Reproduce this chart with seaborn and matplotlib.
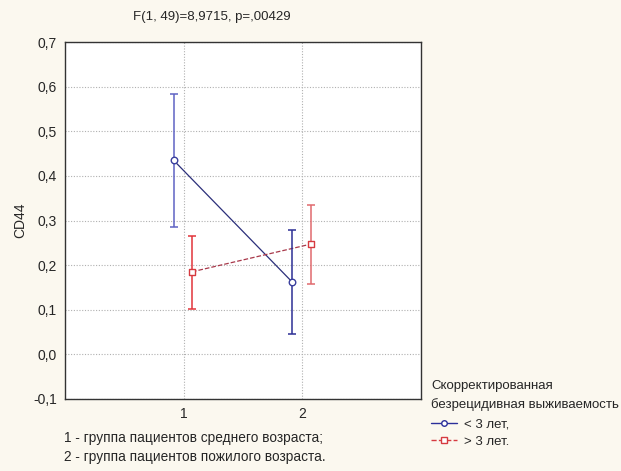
import numpy as np
import pandas as pd
import matplotlib
matplotlib.use("Agg")
import matplotlib.pyplot as plt
import seaborn as sns
from matplotlib.lines import Line2D
from matplotlib.ticker import FuncFormatter

groups = [1, 2]
series = ["< 3 лет,", "> 3 лет."]
mean_short = [0.435, 0.162]
low_short = [0.285, 0.045]
high_short = [0.583, 0.278]
mean_long = [0.185, 0.247]
low_long = [0.102, 0.157]
high_long = [0.265, 0.335]
title_text = "F(1, 49)=8,9715, p=,00429"
ylabel_text = "CD44"
note_lines = ["1 - группа пациентов среднего возраста;", "2 - группа пациентов пожилого возраста."]
legend_title = "Скорректированная\nбезрецидивная выживаемость"

sns.set_style("white")
plt.rcParams['font.family'] = ['Liberation Sans', 'DejaVu Sans']

bg = "#fbf8ef"
fig = plt.figure(figsize=(6.21, 4.71), dpi=100, facecolor=bg)
ax = fig.add_axes([65/621, 1-399/471, (421-65)/621, (399-42)/471])
ax.set_facecolor("white")

offsets = [-0.085, 0.07]
df = pd.DataFrame({
    "x": [g + offsets[0] for g in groups] + [g + offsets[1] for g in groups],
    "mean": mean_short + mean_long,
    "low": low_short + low_long,
    "high": high_short + high_long,
    "series": [series[0]] * 2 + [series[1]] * 2,
})

line_cols = {series[0]: "#2b2f7a", series[1]: "#a8384a"}
err_cols = {series[0]: ["#5f63c4", "#2c2f95"], series[1]: ["#e2343a", "#e06a6e"]}
mk_cols = {series[0]: "#3a3f9e", series[1]: "#d63a40"}
markers = {series[0]: "o", series[1]: "s"}
styles = {series[0]: "-", series[1]: "--"}

for s in series:
    d = df[df["series"] == s]
    sns.lineplot(data=d, x="x", y="mean", ax=ax, color=line_cols[s], linewidth=0.9,
                 linestyle=styles[s], legend=False, zorder=2)
    for i, (_, r) in enumerate(d.iterrows()):
        ax.errorbar(r["x"], r["mean"], yerr=[[r["mean"] - r["low"]], [r["high"] - r["mean"]]],
                    fmt="none", ecolor=err_cols[s][i], elinewidth=1.1, capsize=3.2, capthick=1.1, zorder=3)
    ax.scatter(d["x"], d["mean"], marker=markers[s], s=22, facecolor="white",
               edgecolor=mk_cols[s], linewidth=1.0, zorder=4)

ax.set_xlim(0, 3)
ax.set_ylim(-0.1, 0.7)
ax.set_xticks(groups)
ax.set_xticklabels([str(g) for g in groups])
ax.set_yticks(np.round(np.arange(-0.1, 0.71, 0.1), 1))
ax.yaxis.set_major_formatter(FuncFormatter(lambda v, p: f"{v:.1f}".replace(".", ",").replace("-0,0", "0,0")))
ax.grid(True, color="#b0b0b0", linestyle=(0, (1, 1.5)), linewidth=0.8)
ax.tick_params(axis="both", labelsize=10, length=3, direction="in", color="#444444", pad=6)
ax.tick_params(axis="x", pad=6)
for sp in ax.spines.values():
    sp.set_color("#333333")
    sp.set_linewidth(1.0)
ax.set_xlabel("")
ax.set_ylabel(ylabel_text, fontsize=10, labelpad=4)

fig.text(212/621, 1-17/471, title_text, ha="center", va="center", fontsize=9.5)
fig.text(64/621, 1-438/471, note_lines[0], ha="left", va="center", fontsize=9.8)
fig.text(64/621, 1-457/471, note_lines[1], ha="left", va="center", fontsize=9.8)

title_lines = legend_title.split("\n")
fig.text(431/621, 1-386/471, title_lines[0], ha="left", va="center", fontsize=9.5)
fig.text(431/621, 1-405/471, title_lines[1], ha="left", va="center", fontsize=9.5)

handles = [
    Line2D([], [], color="#2b2f9a", linestyle="-", marker="o", markersize=4,
           markerfacecolor="white", markeredgecolor="#2b2f9a", linewidth=1),
    Line2D([], [], color="#d63a40", linestyle="--", marker="s", markersize=4,
           markerfacecolor="white", markeredgecolor="#d63a40", linewidth=1),
]
leg = fig.legend(handles, series, loc="upper left",
                 bbox_to_anchor=(431/621, 1-418/471), frameon=False, fontsize=9.5,
                 handlelength=2.0, handletextpad=0.5,
                 labelspacing=0.4, borderpad=0, borderaxespad=0)

fig.savefig("out.png", dpi=100, facecolor=bg)
